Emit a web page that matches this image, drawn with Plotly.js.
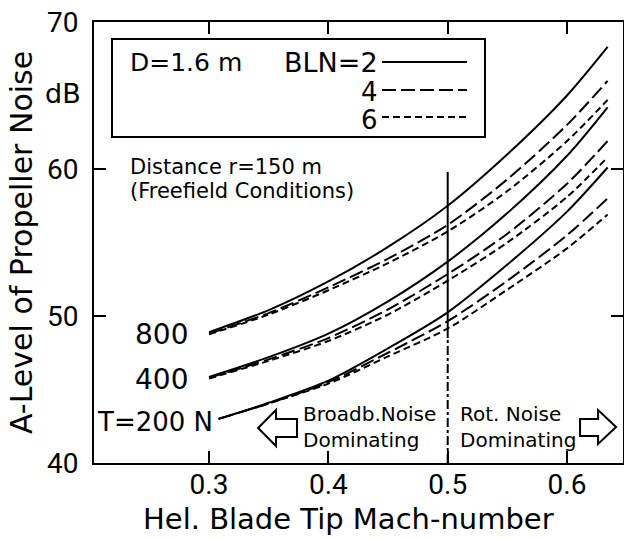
<!DOCTYPE html>
<html>
<head>
<meta charset="utf-8">
<script src="https://cdn.plot.ly/plotly-3.0.1.min.js"></script>
<style>html,body{margin:0;padding:0;background:#fff;}#chart{width:624px;height:538px;}</style>
</head>
<body>
<div id="chart"></div>
<script>
// Helical blade tip Mach number
const machX = [0.3, 0.35, 0.4, 0.45, 0.5, 0.55, 0.6, 0.634];
const machXLow = [0.308, 0.35, 0.4, 0.45, 0.5, 0.55, 0.6, 0.634];

// A-level (dB), thrust T = 800 N
const t800_bln2 = [48.9, 50.4, 52.35, 54.7, 57.5, 61.0, 65.0, 68.3];
const t800_bln4 = [48.8, 50.2, 51.95, 53.9, 56.2, 59.3, 63.0, 66.0];
const t800_bln6 = [48.75, 50.1, 51.75, 53.6, 55.75, 58.5, 61.9, 64.7];
// T = 400 N
const t400_bln2 = [45.85, 47.2, 48.8, 51.0, 53.7, 57.0, 60.9, 64.2];
const t400_bln4 = [45.8, 47.05, 48.5, 50.45, 52.85, 55.6, 59.0, 61.9];
const t400_bln6 = [45.75, 46.95, 48.3, 50.1, 52.4, 55.0, 58.1, 60.8];
// T = 200 N
const t200_bln2 = [43.0, 44.1, 45.6, 47.8, 50.25, 53.5, 57.1, 60.1];
const t200_bln4 = [43.0, 44.05, 45.5, 47.5, 49.65, 52.4, 55.5, 58.0];
const t200_bln6 = [43.0, 44.05, 45.4, 47.25, 49.15, 51.8, 54.6, 56.9];

const xTicks = [0.3, 0.4, 0.5, 0.6];
const xTickText = ['0.3', '0.4', '0.5', '0.6'];
const yTicks = [40, 50, 60, 70];
const yTickText = ['40', '50', '60', '70'];

const TICKFONT = 'Roboto, "DejaVu Sans", sans-serif';
const FONT = '"DejaVu Sans", Roboto, sans-serif';
const DASH = {2: 'solid', 4: '14px,5px', 6: '7px,4px'};

function tr(x, y, bln) {
  return {x: x, y: y, type: 'scatter', mode: 'lines', showlegend: false, hoverinfo: 'skip',
    line: {color: '#000', width: 2, dash: DASH[bln], shape: 'spline', smoothing: 0.8}};
}
const data = [
  tr(machX, t800_bln2, 2), tr(machX, t800_bln4, 4), tr(machX, t800_bln6, 6),
  tr(machX, t400_bln2, 2), tr(machX, t400_bln4, 4), tr(machX, t400_bln6, 6),
  tr(machXLow, t200_bln2, 2), tr(machXLow, t200_bln4, 4), tr(machXLow, t200_bln6, 6)
];

// pixel -> paper helpers for layout decorations
const L = 94, R = 623, T = 22, B = 463;
const PX = p => (p - L) / (R - L);
const PY = p => (B - p) / (B - T);

function ann(text, xp, yp, size, xanchor, extra) {
  return Object.assign({text: text, xref: 'paper', yref: 'paper', x: PX(xp), y: PY(yp),
    xanchor: xanchor || 'left', yanchor: 'middle', showarrow: false,
    font: {family: FONT, size: size, color: '#000'}}, extra || {});
}

const annotations = [
  ann('D=1.6 m', 128, 62, 25, 'left'),
  ann('BLN=2', 380, 62, 27, 'right'),
  ann('4', 380, 92, 26, 'right'),
  ann('6', 380, 120, 26, 'right'),
  ann('Distance r=150 m', 128, 167, 21, 'left'),
  ann('(Freefield Conditions)', 128, 191, 21, 'left'),
  ann('800', 190, 334, 28, 'right'),
  ann('400', 190, 379, 28, 'right'),
  ann('T=200 N', 215, 422, 26, 'right'),
  ann('Broadb.Noise<br>Dominating', 301, 427, 20, 'left', {align: 'left'}),
  ann('Rot. Noise<br>Dominating', 458, 427, 20, 'left', {align: 'left'}),
  ann('dB', 83, 93, 27, 'right'),
  ann('A-Level of Propeller Noise', 22, 243, 30, 'center', {textangle: -90}),
  ann('Hel. Blade Tip Mach-number', 348, 519, 29, 'center')
];

function pline(x0, x1, yp, dash) {
  return {type: 'line', xref: 'paper', yref: 'paper', x0: PX(x0), x1: PX(x1), y0: PY(yp), y1: PY(yp),
    line: {color: '#000', width: 2, dash: dash}};
}
function dpath(pts) {
  const conv = pts.map(p => [0.3 + (p[0] - 209) / 1193.3, 40 + (463 - p[1]) / 14.7]);
  return 'M' + conv.map(c => c[0].toFixed(4) + ',' + c[1].toFixed(3)).join('L') + 'Z';
}
const shapes = [
  {type: 'rect', xref: 'paper', yref: 'paper', x0: PX(112), x1: PX(485), y0: PY(137), y1: PY(39),
    line: {color: '#000', width: 2}},
  pline(382, 467, 62, 'solid'),
  pline(382, 467, 90, '14px,5px'),
  pline(382, 467, 117, '7px,4px'),
  {type: 'line', xref: 'x', yref: 'y', x0: 0.5, x1: 0.5, y0: 48.5, y1: 59.8, line: {color: '#000', width: 2}},
  {type: 'line', xref: 'x', yref: 'y', x0: 0.5, x1: 0.5, y0: 40, y1: 48.5, line: {color: '#000', width: 2, dash: 'dashdot'}},
  {type: 'path', xref: 'x', yref: 'y', path: dpath([[258,428],[276,410],[276,419],[297,419],[297,437],[276,437],[276,446]]),
    line: {color: '#000', width: 2}},
  {type: 'path', xref: 'x', yref: 'y', path: dpath([[616,427],[598,410],[598,419],[580,419],[580,436],[598,436],[598,444]]),
    line: {color: '#000', width: 2}}
];

const axisCommon = {showline: true, linecolor: '#000', linewidth: 2, mirror: 'ticks', ticks: 'inside',
  ticklen: 12, tickwidth: 2, tickcolor: '#000', showgrid: false, zeroline: false,
  tickfont: {family: TICKFONT, size: 28, color: '#000'}};

const layout = {
  width: 624, height: 538,
  margin: {l: L, r: 624 - R, t: T, b: 538 - B, pad: 0},
  paper_bgcolor: '#fff', plot_bgcolor: '#fff',
  showlegend: false,
  xaxis: Object.assign({}, axisCommon, {range: [0.2036, 0.6469], tickvals: xTicks, ticktext: xTickText, ticklabelstandoff: -5}),
  yaxis: Object.assign({}, axisCommon, {range: [40, 70], tickvals: yTicks, ticktext: yTickText, ticklabelstandoff: 8}),
  annotations: annotations,
  shapes: shapes
};

Plotly.newPlot('chart', data, layout, {staticPlot: true, displayModeBar: false});
</script>
</body>
</html>
